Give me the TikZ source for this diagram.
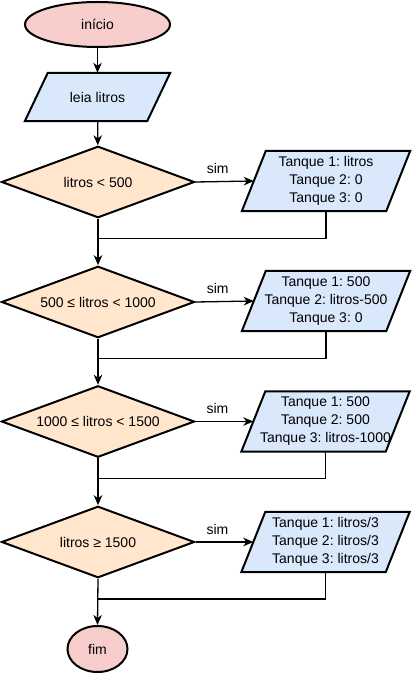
\documentclass[tikz,border=0pt]{standalone}
\usepackage{fontspec}
\setmainfont{Liberation Sans}
\usetikzlibrary{shapes.geometric,arrows.meta,backgrounds}
\definecolor{termfill}{HTML}{F8CECC}
\definecolor{iofill}{HTML}{DAE8FC}
\definecolor{decfill}{HTML}{FFE6CC}
\frenchspacing
\tikzset{
  every node/.style={font=\fontsize{14}{18}\selectfont\frenchspacing, text=black},
  term/.style={ellipse, draw=black, line width=2pt, fill=termfill, inner sep=0pt},
  decision/.style={diamond, aspect=2.7, draw=black, line width=2pt, fill=decfill, inner sep=0pt, minimum width=193pt, minimum height=71.5pt},
  iotext/.style={rectangle, inner sep=0pt, align=center},
  pshape/.style={draw=black, line width=2pt, fill=iofill, line join=miter},
  conn/.style={draw=black, line width=1.3pt},
  arr/.style={conn, -{Stealth[length=10pt,width=8.5pt,inset=3pt]}},
  lbl/.style={inner sep=0pt}
}
\newcommand\mypgram[2]{%
  \begin{scope}[on background layer]
    \path[pshape] ([xshift=-#2pt]#1.south west) -- ([xshift=-#2pt]#1.south east)
      -- ([xshift=#2pt]#1.north east) -- ([xshift=#2pt]#1.north west) -- cycle;
  \end{scope}}
\begin{document}
\begin{tikzpicture}[x=1pt,y=-1pt]
\useasboundingbox (0,0) rectangle (414,684);

\node[term, minimum width=145pt, minimum height=45pt] (ini) at (97.5,24.5) {início};
\node[iotext, minimum width=122pt, minimum height=48pt] (leia) at (97.5,97) {leia litros};
\mypgram{leia}{11.5}

\node[decision] (d1) at (98,182) {litros < 500};
\node[decision] (d2) at (98,302) {500 ≤ litros < 1000};
\node[decision] (d3) at (98,421.5) {1000 ≤ litros < 1500};
\node[decision] (d4) at (98,542) {litros ≥ 1500};

\node[iotext, minimum width=144pt, minimum height=60pt] (b1) at (326,181) {Tanque 1: litros\\Tanque 2: 0\\Tanque 3: 0};
\node[iotext, minimum width=144pt, minimum height=60pt] (b2) at (326,301) {Tanque 1: 500\\Tanque 2: litros-500\\Tanque 3: 0};
\node[iotext, minimum width=144pt, minimum height=60pt] (b3) at (325.5,421.5) {Tanque 1: 500\\Tanque 2: 500\\Tanque 3: litros-1000};
\node[iotext, minimum width=144pt, minimum height=60pt] (b4) at (325.5,542) {Tanque 1: litros/3\\Tanque 2: litros/3\\Tanque 3: litros/3};
\mypgram{b1}{12}
\mypgram{b2}{12}
\mypgram{b3}{12}
\mypgram{b4}{12}

\node[term, minimum width=60pt, minimum height=46pt] (fim) at (97.5,649) {fim};

\coordinate (m1) at (98,238.5);
\coordinate (m2) at (98,358.5);
\coordinate (m3) at (98,478.5);
\coordinate (m4) at (98,599);

\draw[arr] (ini) -- (leia);
\draw[arr] (leia) -- (d1);
\draw[arr] (d1.south) -- (d2.north);
\draw[arr] (d2.south) -- (d3.north);
\draw[arr] (d3.south) -- (d4.north);
\draw[arr] (d4.south) -- (fim.north);

\draw[arr] (d1.east) -- (b1.west) node[lbl, pos=0.38, above=7pt] {sim};
\draw[arr] (d2.east) -- (b2.west) node[lbl, pos=0.38, above=7pt] {sim};
\draw[arr] (d3.east) -- (b3.west) node[lbl, pos=0.38, above=7pt] {sim};
\draw[arr] (d4.east) -- (b4.west) node[lbl, pos=0.38, above=7pt] {sim};

\draw[conn] (b1.south) |- (m1);
\draw[conn] (b2.south) |- (m2);
\draw[conn] (b3.south) |- (m3);
\draw[conn] (b4.south) |- (m4);
\end{tikzpicture}
\end{document}
